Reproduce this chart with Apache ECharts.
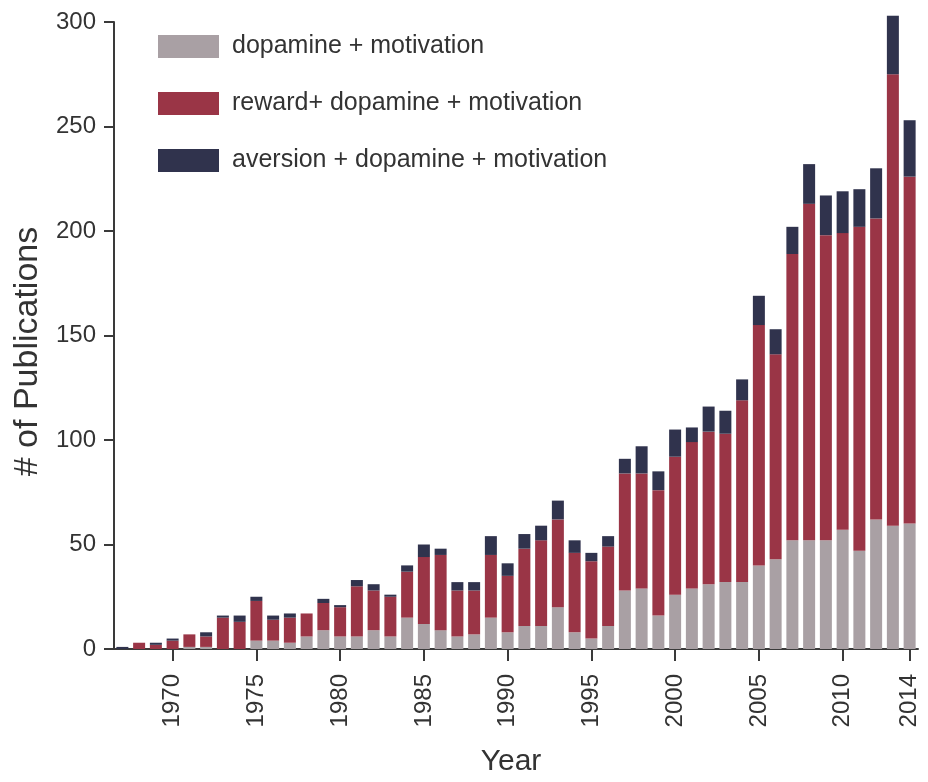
<!DOCTYPE html>
<html>
<head>
<meta charset="utf-8">
<script src="https://cdn.jsdelivr.net/npm/echarts@6/dist/echarts.min.js"></script>
<style>
html,body{margin:0;padding:0;background:#fff;}
#chart{width:928px;height:782px;}
</style>
</head>
<body>
<div id="chart"></div>
<script>
const years = ['1967','1968','1969','1970','1971','1972','1973','1974','1975','1976','1977','1978','1979','1980','1981','1982','1983','1984','1985','1986','1987','1988','1989','1990','1991','1992','1993','1994','1995','1996','1997','1998','1999','2000','2001','2002','2003','2004','2005','2006','2007','2008','2009','2010','2011','2012','2013','2014'];
const dopamineMotivation = [0,0,0,0,1,1,0,0,4,4,3,6,9,6,6,9,6,15,12,9,6,7,15,8,11,11,20,8,5,11,28,29,16,26,29,31,32,32,40,43,52,52,52,57,47,62,59,60];
const rewardDopamineMotivation = [0,3,2,4,6,5,15,13,19,10,12,11,13,14,24,19,19,22,32,36,22,21,30,27,37,41,42,38,37,38,56,55,60,66,70,73,71,87,115,98,137,161,146,142,155,144,216,166];
const aversionDopamineMotivation = [1,0,1,1,0,2,1,3,2,2,2,0,2,1,3,3,1,3,6,3,4,4,9,6,7,7,9,6,4,5,7,13,9,13,7,12,11,10,14,12,13,19,19,20,18,24,28,27];
const seriesNames = ['dopamine + motivation','reward+ dopamine + motivation','aversion + dopamine + motivation'];
const yTicks = [0,50,100,150,200,250,300];

const FONT = "'Liberation Sans', Arial, Helvetica, sans-serif";
const TXT = '#333333';
const AX = '#3a3a3a';
const colors = ['#a9a0a4','#9a3546','#30334d'];

const chart = echarts.init(document.getElementById('chart'), null, {renderer:'canvas'});
const showLabel = (idx, val) => (Number(val) % 5 === 0) || val === '2014';

chart.setOption({
  animation:false,
  backgroundColor:'#ffffff',
  color: colors,
  grid:{left:114, right:10, top:22, bottom:130, containLabel:false},
  legend:{
    orient:'vertical', left:153, top:29,
    icon:'rect', itemWidth:61, itemHeight:23, itemGap:32,
    textStyle:{fontFamily:FONT, fontSize:25, color:TXT, padding:[0,0,0,8]},
    data: seriesNames
  },
  xAxis:{
    type:'category', data: years, boundaryGap:true,
    name:'Year', nameLocation:'middle', nameGap:98,
    nameTextStyle:{fontFamily:FONT, fontSize:30, color:TXT, padding:[0,10,0,0]},
    axisLine:{show:true, lineStyle:{color:AX, width:2}},
    axisTick:{show:true, alignWithLabel:true, interval: showLabel, length:12, lineStyle:{color:AX, width:2}},
    axisLabel:{interval: showLabel, rotate:90, margin:25, fontFamily:FONT, fontSize:24, color:TXT},
    splitLine:{show:false}
  },
  yAxis:{
    type:'value', min:0, max:300, interval:50,
    name:'# of Publications', nameLocation:'middle', nameGap:67,
    nameTextStyle:{fontFamily:FONT, fontSize:34, color:TXT, padding:[0,32,0,0]},
    axisLine:{show:true, lineStyle:{color:AX, width:2}},
    axisTick:{show:true, length:10, lineStyle:{color:AX, width:2}},
    axisLabel:{margin:18, fontFamily:FONT, fontSize:24, color:TXT,
      formatter: v => yTicks.indexOf(v) >= 0 ? String(v) : ''},
    splitLine:{show:false}
  },
  series:[
    {name:seriesNames[0], type:'bar', stack:'pubs', barWidth:12, clip:false, data:dopamineMotivation, itemStyle:{color:colors[0]}},
    {name:seriesNames[1], type:'bar', stack:'pubs', barWidth:12, clip:false, data:rewardDopamineMotivation, itemStyle:{color:colors[1]}},
    {name:seriesNames[2], type:'bar', stack:'pubs', barWidth:12, clip:false, data:aversionDopamineMotivation, itemStyle:{color:colors[2]}}
  ]
});
</script>
</body>
</html>
